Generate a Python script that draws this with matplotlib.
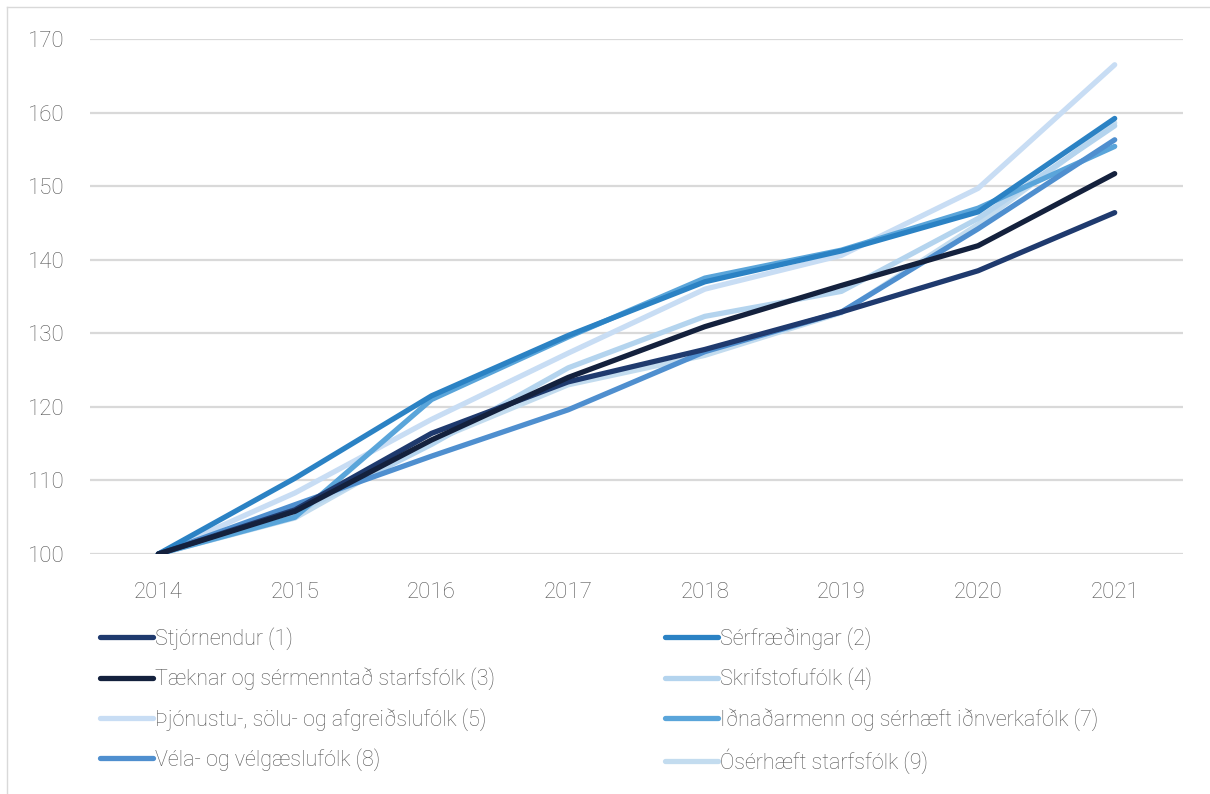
import matplotlib.pyplot as plt
from matplotlib.lines import Line2D

years = [2014, 2015, 2016, 2017, 2018, 2019, 2020, 2021]

stjornendur = [100, 106.0, 116.4, 123.4, 127.8, 132.9, 138.5, 146.4]
serfraedingar = [100, 110.3, 121.5, 129.7, 137.0, 141.2, 146.5, 159.2]
taeknar = [100, 105.8, 115.5, 124.0, 130.9, 136.5, 141.9, 151.7]
skrifstofufolk = [100, 105.5, 114.9, 125.3, 132.3, 135.7, 145.6, 158.2]
thjonustu = [100, 108.3, 118.3, 127.3, 136.0, 140.6, 149.7, 166.5]
idnadarmenn = [100, 105.0, 121.0, 129.5, 137.5, 141.3, 147.0, 155.4]
vela = [100, 106.7, 113.3, 119.6, 127.5, 132.9, 144.2, 156.3]
oserhaeft = [100, 104.9, 115.3, 123.0, 127.0, 132.8, 144.8, 158.6]

labels = ['Stjórnendur (1)', 'Sérfræðingar (2)', 'Tæknar og sérmenntað starfsfólk (3)',
          'Skrifstofufólk (4)', 'Þjónustu-, sölu- og afgreiðslufólk (5)',
          'Iðnaðarmenn og sérhæft iðnverkafólk (7)', 'Véla- og vélgæslufólk (8)',
          'Ósérhæft starfsfólk (9)']
series = [stjornendur, serfraedingar, taeknar, skrifstofufolk, thjonustu,
          idnadarmenn, vela, oserhaeft]
colors = ['#1f3a6e', '#2b82c4', '#14213d', '#b4d4ee', '#c8ddf4',
          '#5aa5da', '#4f8fcf', '#c3dcef']

plt.rcParams['font.family'] = ['Roboto', 'DejaVu Sans']
plt.rcParams['font.weight'] = 'light'
text_color = '#555555'

fig = plt.figure(figsize=(12.1, 7.94), dpi=100)
ax = fig.add_axes([90 / 1210, 1 - 554 / 794, (1183 - 90) / 1210, (554 - 39) / 794])

# paler lines drawn first, darker ones on top
order = [4, 7, 3, 5, 6, 1, 0, 2]
for i in order:
    ax.plot(years, series[i], color=colors[i], lw=3.8, solid_capstyle='round',
            solid_joinstyle='round', label=labels[i])

ax.set_xlim(2013.5, 2021.5)
ax.set_ylim(100, 170)
ax.set_yticks(range(100, 171, 10))
ax.set_xticks(years)
ax.yaxis.grid(True, color='#d9d9d9', lw=1.6)
ax.set_axisbelow(True)
for s in ax.spines.values():
    s.set_visible(False)
ax.tick_params(axis='both', length=0, labelsize=16, labelcolor=text_color)
ax.tick_params(axis='y', pad=18)
ax.tick_params(axis='x', pad=20)

def make_handle(i):
    return Line2D([], [], color=colors[i], lw=3.8, solid_capstyle='round')

legend_kw = dict(loc='upper left', frameon=False, fontsize=15.5, handlelength=2.45,
                 handletextpad=0.1, labelspacing=0.82, labelcolor=text_color,
                 borderaxespad=0, borderpad=0)
left_idx = [0, 2, 4, 6]
right_idx = [1, 3, 5, 7]
fig.legend([make_handle(i) for i in left_idx], [labels[i] for i in left_idx],
           bbox_to_anchor=(100 / 1210, 1 - 627 / 794), **legend_kw)
fig.legend([make_handle(i) for i in right_idx], [labels[i] for i in right_idx],
           bbox_to_anchor=(665 / 1210, 1 - 627 / 794), **legend_kw)

# thin frame on the left and top edges of the image
fig.add_artist(Line2D([7 / 1210, 7 / 1210], [0, 1 - 7 / 794], color='#d9d9d9', lw=1,
                      transform=fig.transFigure))
fig.add_artist(Line2D([7 / 1210, 1], [1 - 7 / 794, 1 - 7 / 794], color='#d9d9d9', lw=1,
                      transform=fig.transFigure))

fig.savefig('out.png', dpi=100)
